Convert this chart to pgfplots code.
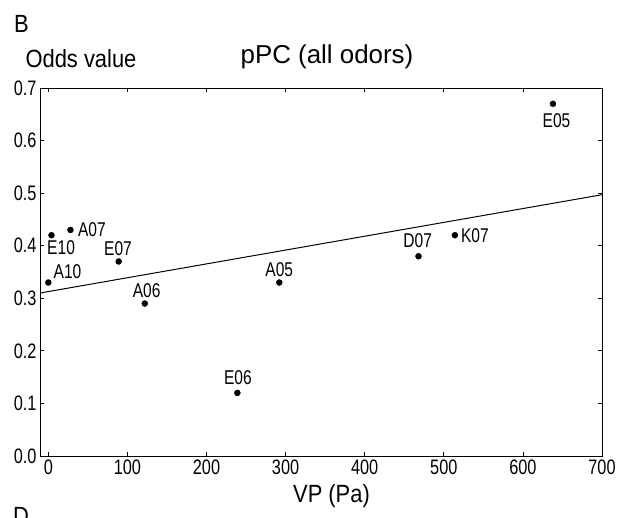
\documentclass[border=0pt]{standalone}
\usepackage{fontspec}
\setmainfont{Liberation Sans}
\newfontfamily\narrowfont{Liberation Sans}[FakeStretch=0.78]
\newfontfamily\labfont{Liberation Sans}[FakeStretch=0.88]
\usepackage{pgfplots}
\pgfplotsset{compat=1.18}

\begin{document}
\begin{tikzpicture}
\begin{axis}[
  name=ax, at={(0,0)}, anchor=south west,
  scale only axis, width=562bp, height=368bp,
  xmin=-10.5, xmax=700, ymin=0, ymax=0.7,
  xtick={0,100,...,700}, ytick={0,0.1,...,0.7},
  yticklabel style={/pgf/number format/.cd,fixed,fixed zerofill,precision=1},
  /pgf/number format/assume math mode=true,
  tick align=inside, major tick length=4bp,
  tick style={black, line width=0.8pt},
  axis line style={line width=1pt},
  ticklabel style={font=\narrowfont\fontsize{21}{21}\selectfont},
  clip=false,
]
\addplot[only marks, mark=*, mark size=3bp, black] coordinates {
  (638,0.67) (4,0.42) (28,0.43) (89,0.37) (0,0.33) (122,0.29)
  (292,0.33) (468,0.38) (514,0.42) (239,0.12)
};
\addplot[black, line width=1pt] coordinates {(-10.5,0.310) (700,0.497)};

\begin{scope}[every node/.style={font=\narrowfont\fontsize{20}{20}\selectfont, inner sep=0}]
\node[xshift=3.6bp, yshift=-16.6bp] at (axis cs:638,0.67) {E05};
\node[xshift=9.6bp, yshift=-12.8bp] at (axis cs:4,0.42) {E10};
\node[xshift=21.5bp] at (axis cs:28,0.43) {A07};
\node[xshift=-0.7bp, yshift=13.2bp] at (axis cs:89,0.37) {E07};
\node[xshift=19.2bp, yshift=10.8bp] at (axis cs:0,0.33) {A10};
\node[xshift=1.8bp, yshift=13bp] at (axis cs:122,0.29) {A06};
\node[yshift=13.2bp] at (axis cs:292,0.33) {A05};
\node[xshift=-0.8bp, yshift=15.2bp] at (axis cs:468,0.38) {D07};
\node[xshift=20bp] at (axis cs:514,0.42) {K07};
\node[xshift=0.5bp, yshift=15.2bp] at (axis cs:239,0.12) {E06};
\end{scope}
\end{axis}

\begin{scope}[every node/.style={font=\labfont\fontsize{25}{25}\selectfont, inner sep=0}]
\node at (-18.5bp,432.5bp) {B};
\node at (41bp,397bp) {Odds value};
\node[font=\fontsize{26}{26}\selectfont] at (287bp,399bp) {pPC (all odors)};
\node at (291.5bp,-40bp) {VP (Pa)};
\node[anchor=north west] at (-27bp,-51bp) {D};
\end{scope}

\pgfresetboundingbox
\path[use as bounding box] (-40bp,-62bp) rectangle (590bp,456bp);
\end{tikzpicture}
\end{document}
